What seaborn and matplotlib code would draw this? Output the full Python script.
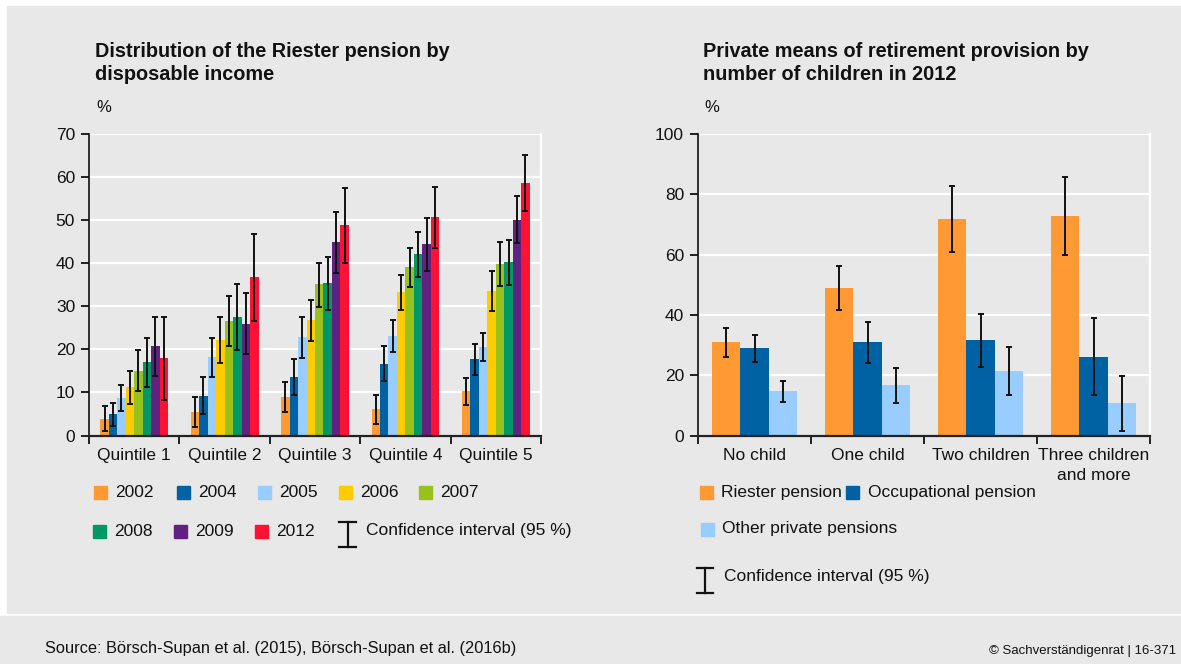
import numpy as np
import pandas as pd
import matplotlib
matplotlib.use("Agg")
import matplotlib.pyplot as plt
import seaborn as sns
from matplotlib.patches import Rectangle
from matplotlib.lines import Line2D

# ---------------------------------------------------------------- data
quintiles = ["Quintile 1", "Quintile 2", "Quintile 3", "Quintile 4", "Quintile 5"]
years = ["2002", "2004", "2005", "2006", "2007", "2008", "2009", "2012"]
year_colors = ["#FF9933", "#0061A3", "#99CCFF", "#FFCC00",
               "#99C11C", "#009966", "#612181", "#FF1133"]

# share of households with a Riester pension (%), one row per year
riester_share = [
    [3.8, 5.4, 8.9, 6.1, 10.3],
    [4.9, 9.1, 13.5, 16.5, 17.7],
    [8.7, 18.2, 22.8, 23.0, 20.5],
    [11.2, 22.1, 26.7, 33.3, 33.5],
    [14.9, 26.5, 35.1, 39.1, 39.8],
    [17.0, 27.5, 35.3, 42.1, 40.2],
    [20.7, 25.8, 44.9, 44.4, 50.0],
    [17.9, 36.7, 48.8, 50.7, 58.6],
]
riester_ci_low = [
    [1.1, 2.0, 5.4, 2.7, 7.1],
    [2.2, 4.9, 9.3, 12.6, 14.0],
    [5.7, 13.5, 18.1, 19.3, 17.2],
    [7.3, 16.9, 22.0, 29.2, 28.9],
    [10.3, 20.7, 29.8, 34.5, 34.7],
    [11.3, 19.9, 29.2, 36.7, 34.9],
    [13.8, 18.9, 37.7, 38.2, 44.6],
    [8.2, 26.6, 40.1, 43.5, 52.2],
]
riester_ci_high = [
    [6.8, 9.0, 12.4, 9.3, 13.3],
    [7.6, 13.5, 17.8, 20.7, 21.3],
    [11.7, 22.7, 27.5, 26.9, 23.8],
    [15.0, 27.4, 31.5, 37.3, 38.2],
    [19.9, 32.5, 40.1, 43.5, 44.9],
    [22.7, 35.1, 41.5, 47.3, 45.3],
    [27.5, 33.0, 52.0, 50.5, 55.5],
    [27.5, 46.8, 57.4, 57.6, 65.2],
]

children = ["No child", "One child", "Two children", "Three children\nand more"]
products = ["Riester pension", "Occupational pension", "Other private pensions"]
product_colors = ["#FF9933", "#0061A3", "#99CCFF"]

# share with each kind of provision in 2012 (%), one row per product
provision_share = [
    [31.0, 48.9, 71.8, 72.8],
    [29.0, 31.0, 31.6, 26.0],
    [14.7, 16.7, 21.3, 10.7],
]
provision_ci_low = [
    [26.0, 41.5, 61.0, 59.8],
    [24.3, 24.1, 22.7, 13.3],
    [11.0, 10.8, 13.5, 1.5],
]
provision_ci_high = [
    [35.8, 56.1, 82.6, 85.8],
    [33.4, 37.8, 40.4, 38.9],
    [18.0, 22.3, 29.4, 19.7],
]

# ---------------------------------------------------------------- style
BG = "#E8E8E8"
W, H = 1181, 664
plt.rcParams["font.family"] = ["Liberation Sans", "DejaVu Sans"]
plt.rcParams["font.size"] = 12

fig = plt.figure(figsize=(W / 100, H / 100), dpi=100)
fig.patch.set_facecolor("white")


def fx(px):
    return px / W


def fy(py):
    return 1 - py / H


# grey panels behind the charts and the footer
fig.patches.append(Rectangle((fx(7), fy(613)), fx(W - 7), fy(6) - fy(613),
                             transform=fig.transFigure, color=BG, zorder=-10))
fig.patches.append(Rectangle((0, 0), 1, fy(616),
                             transform=fig.transFigure, color=BG, zorder=-10))


def long_frame(cats, groups, share, low, high, cat_name, grp_name):
    rows = []
    for g, s_row, l_row, h_row in zip(groups, share, low, high):
        for c, s, l, h in zip(cats, s_row, l_row, h_row):
            rows.append({cat_name: c, grp_name: g, "share": s, "low": l, "high": h})
    return pd.DataFrame(rows)


def draw_bars(ax, df, cat_name, grp_name, cats, groups, colors, ymax, ystep, elw):
    sns.barplot(data=df, x=cat_name, y="share", hue=grp_name, order=cats,
                hue_order=groups, palette=dict(zip(groups, colors)),
                saturation=1, errorbar=None, width=0.75, gap=0,
                linewidth=0, legend=False, ax=ax)
    for grp, cont in zip(groups, ax.containers):
        sub = df[df[grp_name] == grp].set_index(cat_name).loc[cats]
        xs = [p.get_x() + p.get_width() / 2 for p in cont]
        ys = sub["share"].to_numpy()
        yerr = [ys - sub["low"].to_numpy(), sub["high"].to_numpy() - ys]
        ax.errorbar(xs, ys, yerr=yerr, fmt="none", ecolor="#111111",
                    elinewidth=elw, capsize=2.2, capthick=elw, zorder=5)
    n = len(cats)
    ax.set_xlim(-0.5, n - 0.5)
    ax.set_ylim(0, ymax)
    ax.set_yticks(np.arange(0, ymax + 1, ystep))
    ax.set_xticks(np.arange(-0.5, n, 1.0))
    ax.set_xticklabels([])
    ax.set_xticks(np.arange(n), minor=True)
    ax.set_xticklabels(cats, minor=True, linespacing=1.45)
    ax.tick_params(axis="x", which="major", length=6, width=1.3, color="#111111")
    ax.tick_params(axis="x", which="minor", length=0, pad=9, labelsize=12.5,
                   labelcolor="#111111")
    ax.tick_params(axis="y", length=6, width=1.3, pad=4, labelsize=12.5,
                   color="#111111", labelcolor="#111111")
    ax.set_xlabel("")
    ax.set_ylabel("")
    ax.set_facecolor("none")
    ax.grid(axis="y", color="white", linewidth=1.6)
    ax.grid(axis="x", visible=False)
    ax.set_axisbelow(True)
    ax.spines["top"].set_visible(False)
    ax.spines["right"].set_color("white")
    ax.spines["right"].set_linewidth(1.6)
    ax.spines["left"].set_color("#111111")
    ax.spines["left"].set_linewidth(1.2)
    ax.spines["bottom"].set_color("#222222")
    ax.spines["bottom"].set_linewidth(1.6)
    ax.spines["bottom"].set_zorder(6)


# ---------------------------------------------------------------- left chart
ax1 = fig.add_axes([fx(89), fy(435.5), fx(541) - fx(89), fy(134) - fy(435.5)])
df1 = long_frame(quintiles, years, riester_share, riester_ci_low,
                 riester_ci_high, "quintile", "year")
draw_bars(ax1, df1, "quintile", "year", quintiles, years, year_colors, 70, 10, 1.4)

# ---------------------------------------------------------------- right chart
ax2 = fig.add_axes([fx(698), fy(435.5), fx(1150) - fx(698), fy(134) - fy(435.5)])
df2 = long_frame(children, products, provision_share, provision_ci_low,
                 provision_ci_high, "children", "product")
draw_bars(ax2, df2, "children", "product", children, products, product_colors,
          100, 20, 1.4)

# ---------------------------------------------------------------- titles
title_kw = dict(fontsize=14.3, fontweight="bold", color="#111111",
                va="baseline", ha="left")
fig.text(fx(95), fy(57), "Distribution of the Riester pension by", **title_kw)
fig.text(fx(95), fy(80.5), "disposable income", **title_kw)
fig.text(fx(703), fy(57), "Private means of retirement provision by", **title_kw)
fig.text(fx(703), fy(80.5), "number of children in 2012", **title_kw)
fig.text(fx(96), fy(108), "%", fontsize=12, va="center", ha="left", color="#111111")
fig.text(fx(704), fy(108), "%", fontsize=12, va="center", ha="left", color="#111111")


# ---------------------------------------------------------------- legends
def swatch(x, yc, color, label, text_x):
    fig.patches.append(Rectangle((fx(x), fy(yc + 6.5)), fx(13), fy(0) - fy(13),
                                 transform=fig.transFigure, color=color))
    fig.text(fx(text_x), fy(yc), label, fontsize=12.5, va="center", ha="left",
             color="#111111")


def ci_glyph(x0, x1, y0, y1, label, text_x, text_y):
    xc = (x0 + x1) / 2
    kw = dict(transform=fig.transFigure, color="#111111", linewidth=1.6)
    fig.lines.append(Line2D([fx(xc), fx(xc)], [fy(y0), fy(y1)], **kw))
    fig.lines.append(Line2D([fx(x0), fx(x1)], [fy(y0), fy(y0)], **kw))
    fig.lines.append(Line2D([fx(x0), fx(x1)], [fy(y1), fy(y1)], **kw))
    fig.text(fx(text_x), fy(text_y), label, fontsize=12.5, va="center",
             ha="left", color="#111111")


row1_x = [94, 177, 258, 339, 419]
row2_x = [93, 174, 255]
for i, (yr, col) in enumerate(zip(years, year_colors)):
    if i < 5:
        swatch(row1_x[i], 492.5, col, yr, row1_x[i] + 21)
    else:
        swatch(row2_x[i - 5], 531, col, yr, row2_x[i - 5] + 21)
ci_glyph(339, 356, 522, 547, "Confidence interval (95 %)", 366, 531)

swatch(700, 492.5, product_colors[0], products[0], 721)
swatch(846, 492.5, product_colors[1], products[1], 868)
swatch(701, 529, product_colors[2], products[2], 722)
ci_glyph(697, 713, 568, 593, "Confidence interval (95 %)", 724, 576)

# ---------------------------------------------------------------- footer
fig.text(fx(45), fy(649), "Source: Börsch-Supan et al. (2015), Börsch-Supan et al. (2016b)",
         fontsize=11.8, va="center", ha="left", color="#111111")
fig.text(fx(1176), fy(651), "© Sachverständigenrat | 16-371",
         fontsize=9.5, va="center", ha="right", color="#111111")

fig.savefig("out.png", dpi=100, facecolor=fig.get_facecolor())
